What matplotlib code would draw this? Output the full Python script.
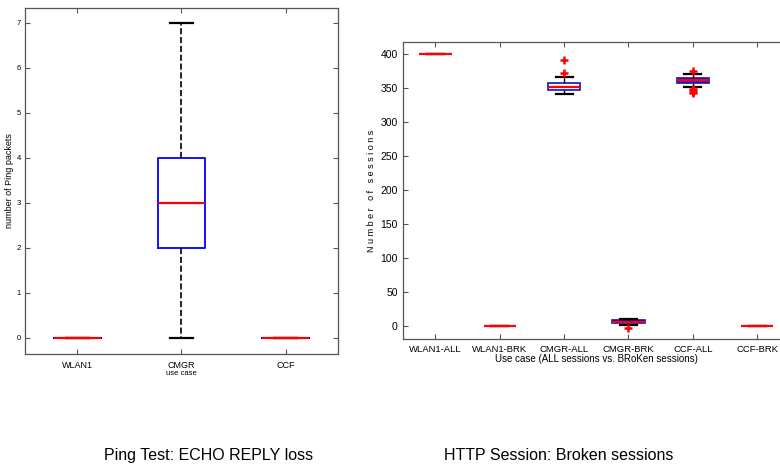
import numpy as np
import matplotlib.pyplot as plt

# ping test data (box stats)
ping_cases = ["WLAN1", "CMGR", "CCF"]
ping_q1 = [0, 2, 0]
ping_med = [0, 3, 0]
ping_q3 = [0, 4, 0]
ping_lo = [0, 0, 0]
ping_hi = [0, 7, 0]

# http sessions data
http_cases = ["WLAN1-ALL", "WLAN1-BRK", "CMGR-ALL", "CMGR-BRK", "CCF-ALL", "CCF-BRK"]
http_q1 = [400, 0, 347, 4, 358, 0]
http_med = [400, 0, 352, 6, 362, 0]
http_q3 = [400, 0, 357, 9, 365, 0]
http_lo = [400, 0, 341, 2, 352, 0]
http_hi = [400, 0, 367, 10, 371, 0]
http_fliers = [[], [], [373, 391], [-3], [375, 349, 347, 345, 343], []]

plt.rcParams['font.family'] = ["Liberation Sans", "DejaVu Sans"]


def make_stats(q1, med, q3, lo, hi, fl=None):
	out = []
	for i in range(len(q1)):
		out.append(dict(q1=q1[i], med=med[i], q3=q3[i], whislo=lo[i], whishi=hi[i],
			fliers=fl[i] if fl else []))
	return out


def style_ax(ax):
	for s in ax.spines.values():
		s.set_color('#555555')
		s.set_linewidth(0.9)
	ax.tick_params(direction='in', top=True, right=True, color='#555555')


fig = plt.figure(figsize=(7.8, 4.66), dpi=100)

# left chart
ax1 = fig.add_axes([0.032, 0.240, 0.401, 0.743])
st = make_stats(ping_q1, ping_med, ping_q3, ping_lo, ping_hi)
ax1.bxp(st, positions=[1, 2, 3], widths=0.45, showfliers=False,
	boxprops=dict(color='blue', linewidth=1.3),
	medianprops=dict(color='red', linewidth=1.6),
	whiskerprops=dict(color='black', linestyle='--', linewidth=1.2),
	capprops=dict(color='black', linewidth=1.6), capwidths=0.22)
ax1.set_xlim(0.5, 3.5)
ax1.set_ylim(-0.36, 7.33)
ax1.set_xticks([1, 2, 3])
ax1.set_xticklabels(ping_cases, fontsize=6.5)
ax1.set_yticks(range(8))
ax1.tick_params(axis='y', labelsize=5.5, pad=3)
ax1.tick_params(axis='x', pad=5)
ax1.set_xlabel("use case", fontsize=5.5, labelpad=0)
ax1.set_ylabel("number of Ping packets", fontsize=6.5)
ax1.yaxis.set_label_coords(-0.035, 0.5)
style_ax(ax1)

# right chart
ax2 = fig.add_axes([0.517, 0.2725, 0.495, 0.6375])
st2 = make_stats(http_q1, http_med, http_q3, http_lo, http_hi, http_fliers)
bp = ax2.bxp(st2, positions=range(1, 7), widths=0.5, patch_artist=True,
	boxprops=dict(edgecolor='#1010c0', facecolor='none', linewidth=1.2),
	medianprops=dict(color='red', linewidth=1.6),
	whiskerprops=dict(color='black', linestyle='--', linewidth=1.0),
	capprops=dict(color='black', linewidth=1.6), capwidths=0.26,
	flierprops=dict(marker='+', markersize=6, markeredgewidth=1.8, markeredgecolor='red'))
bp['boxes'][4].set_facecolor('#6a1aa0')
bp['boxes'][3].set_facecolor('#101060')
ax2.set_xlim(0.5, 6.5)
ax2.set_ylim(-19, 418)
ax2.set_xticks(range(1, 7))
ax2.set_xticklabels(http_cases, fontsize=6.8)
ax2.set_yticks(np.arange(0, 401, 50))
ax2.tick_params(axis='y', labelsize=7.5, pad=4)
ax2.tick_params(axis='x', pad=4)
ax2.set_xlabel("Use case (ALL sessions vs. BRoKen sessions)", fontsize=7, labelpad=0)
ax2.set_ylabel("N u m b e r   o f   s e s s i o n s", fontsize=6.5)
ax2.yaxis.set_label_coords(-0.07, 0.5)
style_ax(ax2)
ax2.spines['right'].set_visible(False)

fig.text(0.267, 0.012, "Ping Test: ECHO REPLY loss", fontsize=11.5, ha='center')
fig.text(0.716, 0.012, "HTTP Session: Broken sessions", fontsize=11.5, ha='center')

fig.savefig("out.png", dpi=100)
